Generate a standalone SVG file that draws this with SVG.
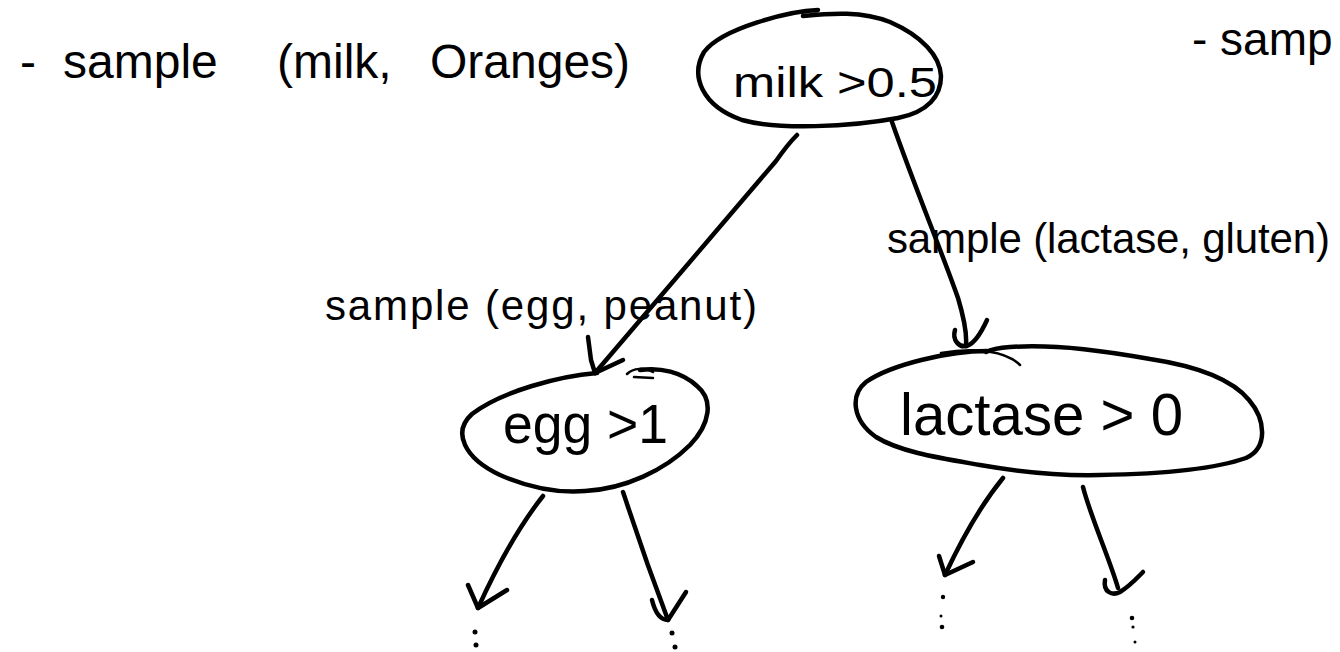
<svg xmlns="http://www.w3.org/2000/svg" width="1340" height="652" viewBox="0 0 1340 652">
  <style>
    .ink { fill: none; stroke: #000; stroke-width: 4.5; stroke-linecap: round; stroke-linejoin: round; }
    .thin { fill: none; stroke: #000; stroke-width: 2.5; stroke-linecap: round; }
    .dot { fill: #000; }
    text { font-family: "Liberation Sans", "DejaVu Sans", sans-serif; fill: #000; }
  </style>
  <rect width="1340" height="652" fill="#fff"/>

  <!-- notes at the top -->
  <g id="note-left">
    <text y="78" font-size="48"><tspan x="20">-</tspan><tspan x="63">sample</tspan><tspan x="277">(milk,</tspan><tspan x="430">Oranges)</tspan></text>
  </g>
  <g id="note-right">
    <text x="1192" y="55" font-size="46">- samp</text>
  </g>

  <!-- tree nodes -->
  <g id="node-milk">
    <path class="ink" d="M 818 10 C 790 11, 722 28, 704 52 C 690 76, 702 106, 742 120 C 778 130, 850 127, 898 118 C 928 112, 941 96, 941 76 C 940 56, 922 36, 890 22 C 862 11, 832 13, 803 16"/>
    <text x="733" y="97" font-size="42" textLength="204" lengthAdjust="spacingAndGlyphs">milk &gt;0.5</text>
  </g>

  <g id="node-egg">
    <path class="ink" d="M 597 373 C 560 376, 502 391, 472 414 C 452 432, 464 458, 500 475 C 530 488, 560 493, 585 491 C 625 489, 665 470, 690 445 C 710 424, 714 400, 697 386 C 682 372, 660 367, 640 370"/>
    <path class="thin" d="M 627 374 C 633 368, 645 367, 653 372 M 634 377 L 653 378"/>
    <text x="503" y="443" font-size="56" textLength="165" lengthAdjust="spacingAndGlyphs">egg &gt;1</text>
  </g>

  <g id="node-lactase">
    <path class="ink" d="M 987 351 C 950 351, 892 364, 866 382 C 850 395, 852 420, 876 437 C 900 452, 940 458, 980 465 C 1020 472, 1060 476, 1100 475 C 1160 474, 1212 470, 1246 458 C 1268 448, 1266 420, 1249 400 C 1231 378, 1196 366, 1150 359 C 1110 352, 1060 344, 1010 347 C 998 348, 990 350, 986 352"/>
    <path class="thin" d="M 941 353 C 975 347, 1006 351, 1020 365"/>
    <text x="900" y="435" font-size="60" textLength="283" lengthAdjust="spacingAndGlyphs">lactase &gt; 0</text>
  </g>

  <!-- edges with their labels -->
  <g id="connectors">
    <!-- milk -> egg -->
    <path class="ink" d="M 797 135 C 789 143, 783 151, 776 161 L 595 373"/>
    <path class="ink" d="M 588 337 L 591 360 L 595 373 L 623 360"/>
    <!-- milk -> lactase -->
    <path class="ink" d="M 892 122 C 914 185, 943 255, 958 298 C 964 318, 967 333, 966 345"/>
    <path class="ink" d="M 955 330 C 952 340, 959 348, 967 346 C 975 343, 982 331, 987 320"/>
    <!-- egg -> children -->
    <path class="ink" d="M 543 496 C 520 525, 499 562, 478 608"/>
    <path class="ink" d="M 468 585 L 478 608 L 507 590"/>
    <path class="ink" d="M 623 492 C 628 506, 640 546, 668 620"/>
    <path class="ink" d="M 652 600 C 655 612, 660 620, 668 620 L 686 592"/>
    <!-- lactase -> children -->
    <path class="ink" d="M 1003 478 C 985 500, 965 532, 945 575"/>
    <path class="ink" d="M 939 556 L 945 575 L 973 562"/>
    <path class="ink" d="M 1083 487 C 1090 515, 1110 560, 1118 588"/>
    <path class="ink" d="M 1105 580 C 1103 592, 1112 596, 1120 592 C 1130 586, 1137 578, 1143 572"/>
    <!-- continuation marks under the leaves -->
    <circle class="dot" cx="475" cy="632" r="2.5"/>
    <circle class="dot" cx="476" cy="645" r="2.5"/>
    <circle class="dot" cx="672" cy="633" r="2.5"/>
    <circle class="dot" cx="675" cy="647" r="2.5"/>
    <circle class="dot" cx="943" cy="597" r="2.2"/>
    <circle class="dot" cx="941" cy="616" r="1.5"/>
    <circle class="dot" cx="942" cy="627" r="2.3"/>
    <circle class="dot" cx="1132" cy="618" r="2.3"/>
    <circle class="dot" cx="1133" cy="627" r="1.6"/>
    <circle class="dot" cx="1135" cy="642" r="1.5"/>
    <text x="325" y="320" font-size="42" textLength="432" lengthAdjust="spacing">sample (egg, peanut)</text>
    <text x="887" y="253" font-size="42" textLength="443" lengthAdjust="spacing">sample (lactase, gluten)</text>
  </g>
</svg>
